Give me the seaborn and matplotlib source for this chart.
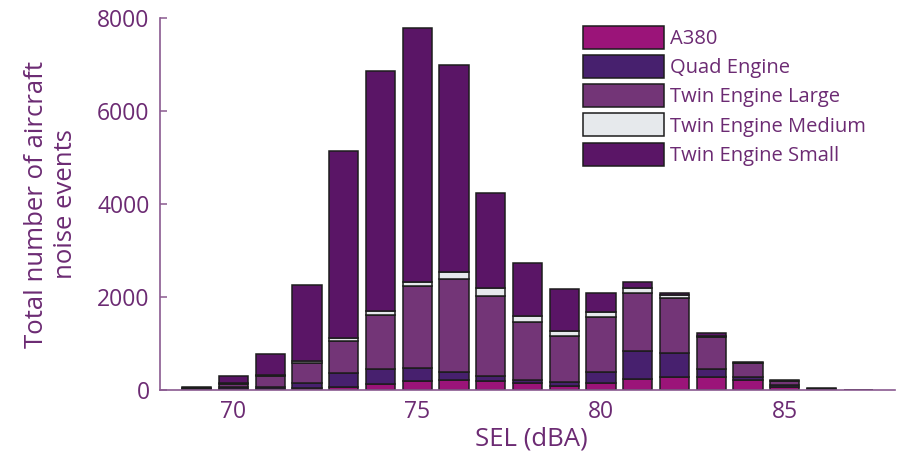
import matplotlib
matplotlib.use("Agg")
import matplotlib.pyplot as plt
from matplotlib.patches import Patch
import pandas as pd
import seaborn as sns

# Sound exposure level bins (dBA) and event counts per aircraft group
sel_dba = list(range(69, 88))
a380 = [5, 15, 20, 40, 65, 130, 185, 215, 195, 140, 85, 150, 240, 280, 280, 205, 70, 10, 0]
quad_engine = [10, 40, 55, 110, 300, 325, 280, 170, 110, 85, 85, 235, 605, 520, 175, 65, 35, 10, 0]
twin_large = [15, 80, 220, 440, 690, 1165, 1770, 2005, 1725, 1230, 990, 1185, 1245, 1190, 690, 310, 90, 5, 8]
twin_medium = [5, 15, 25, 35, 65, 75, 85, 150, 170, 130, 105, 110, 110, 50, 10, 0, 0, 0, 0]
twin_small = [35, 150, 460, 1640, 4030, 5180, 5480, 4450, 2030, 1150, 910, 410, 130, 55, 65, 30, 20, 20, 0]

categories = ["A380", "Quad Engine", "Twin Engine Large",
              "Twin Engine Medium", "Twin Engine Small"]
colors = ["#9B1479", "#47206E", "#733577", "#E6E9EC", "#5A1566"]

x_ticks = [70, 75, 80, 85]
y_ticks = [0, 2000, 4000, 6000, 8000]

sns.set_theme(style="white")
plt.rcParams["font.family"] = ["Open Sans", "DejaVu Sans"]

text_color = "#6C2B73"
axis_color = "#8A5A90"
edge_color = "#1c1c1c"

series = dict(zip(categories, [a380, quad_engine, twin_large, twin_medium, twin_small]))
rows = [(s, cat, v) for cat, vals in series.items() for s, v in zip(sel_dba, vals)]
df = pd.DataFrame(rows, columns=["SEL", "type", "events"])
palette = dict(zip(categories, colors))

fig = plt.figure(figsize=(9.01, 4.66), dpi=100)
ax = fig.add_axes([0.1776, 0.1631, 0.8157, 0.7976])

# seaborn stacks the first hue level on top, so reverse to put A380 at the base
sns.histplot(data=df, x="SEL", weights="events", hue="type",
             hue_order=categories[::-1], palette=palette,
             multiple="stack", discrete=True, shrink=0.8,
             edgecolor=edge_color, linewidth=1.1, alpha=1,
             legend=False, ax=ax)

ax.set_xlim(68, 88)
ax.set_ylim(0, 8000)
ax.set_xticks(x_ticks)
ax.set_yticks(y_ticks)
ax.set_xticklabels([str(t) for t in x_ticks])
ax.set_yticklabels([str(t) for t in y_ticks])

for side in ["top", "right"]:
    ax.spines[side].set_visible(False)
for side in ["left", "bottom"]:
    ax.spines[side].set_color(axis_color)
    ax.spines[side].set_linewidth(1.2)

ax.tick_params(axis="both", which="major", direction="in", length=5, width=1.1,
               color=axis_color, labelcolor=text_color, labelsize=16.5, pad=7.5)
ax.tick_params(left=True, bottom=True)

ax.set_xlabel("SEL (dBA)", fontsize=18.5, color=text_color)
ax.set_ylabel("Total number of aircraft\nnoise events", fontsize=18.5,
              color=text_color, linespacing=1.2)
ax.yaxis.set_label_coords(-0.112, 0.5)
ax.xaxis.set_label_coords(0.505, -0.0995)

handles = [Patch(facecolor=c, edgecolor=edge_color, linewidth=1.1) for c in colors]
leg = fig.legend(handles, categories, loc="upper left",
                 bbox_to_anchor=(0.647, 0.945), bbox_transform=fig.transFigure,
                 frameon=False, fontsize=14.5, handlelength=4.02, handleheight=1.38,
                 labelspacing=0.30, handletextpad=0.30, borderpad=0, borderaxespad=0)
for t in leg.get_texts():
    t.set_color(text_color)

fig.savefig("out.png", dpi=100)
